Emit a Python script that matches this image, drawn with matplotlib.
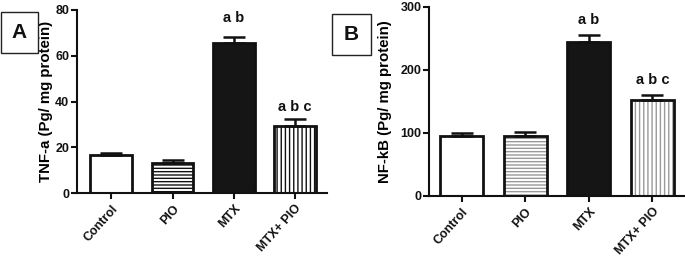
import matplotlib
matplotlib.use("Agg")
import matplotlib.pyplot as plt
from matplotlib.patches import Rectangle
import numpy as np

plt.rcParams['font.family'] = ['Liberation Sans', 'DejaVu Sans']
plt.rcParams['font.weight'] = 'bold'
plt.rcParams['hatch.linewidth'] = 1.0

categories = ["Control", "PIO", "MTX", "MTX+ PIO"]
tnf_values = [16.5, 13.3, 65.7, 29.3]
tnf_errors = [1.1, 1.0, 2.4, 2.9]
nfkb_values = [95.5, 95.5, 244, 152]
nfkb_errors = [4.8, 6.4, 10.5, 8.5]
tnf_labels = ["", "", "a b", "a b c"]
nfkb_labels = ["", "", "a b", "a b c"]

W, H = 685, 263
fig = plt.figure(figsize=(W / 100, H / 100), dpi=100)

def px_axes(l, r, t, b):
    return fig.add_axes([l / W, 1 - b / H, (r - l) / W, (b - t) / H])

def draw_panel(ax, values, errors, labels, hatch_color, ylim, yticks, ylabel,
               xlim, label_y):
    x = np.arange(len(values))
    w = 0.68
    styles = [
        dict(face='white', hatch=None),
        dict(face='white', hatch='-----'),
        dict(face='#151515', hatch=None),
        dict(face='white', hatch='||||'),
    ]
    for i, (v, s) in enumerate(zip(values, styles)):
        ax.bar(x[i], v, width=w, color=s['face'], edgecolor=hatch_color if s['hatch'] else 'none',
               hatch=s['hatch'], linewidth=0, zorder=2)
        ax.bar(x[i], v, width=w, color='none', edgecolor='#111111', linewidth=2.0, zorder=3)
    ax.errorbar(x, values, yerr=[np.zeros(len(values)), errors], fmt='none',
                ecolor='#111111', elinewidth=1.8, capsize=8, capthick=1.8, zorder=4)
    for i, t in enumerate(labels):
        if t:
            ax.text(x[i], label_y[i], t, ha='center', va='center', fontsize=10.5,
                    fontweight='bold', color='#111111')
    ax.set_xlim(*xlim)
    ax.set_ylim(*ylim)
    ax.set_yticks(yticks)
    ax.set_xticks(x)
    ax.set_xticklabels(categories, rotation=48, ha='right', rotation_mode='anchor',
                       fontsize=9, fontweight='bold')
    for lab in ax.get_yticklabels():
        lab.set_fontsize(9)
        lab.set_fontweight('bold')
    ax.set_ylabel(ylabel, fontsize=10.8, fontweight='bold')
    ax.spines['top'].set_visible(False)
    ax.spines['right'].set_visible(False)
    for sp in ('left', 'bottom'):
        ax.spines[sp].set_linewidth(1.5)
        ax.spines[sp].set_color('#111111')
    ax.tick_params(axis='both', direction='out', length=4, width=1.5, colors='#111111', pad=1.5)
    ax.tick_params(axis='x', pad=3)

axA = px_axes(77, 327, 10, 193)
draw_panel(axA, tnf_values, tnf_errors, tnf_labels, '#111111', (0, 80), [0, 20, 40, 60, 80],
           "TNF-a (Pg/ mg protein)", (-0.56, 3.52), [0, 0, 76.5, 37.6])
axA.yaxis.set_label_coords(-24 / 250, 0.5)

axB = px_axes(429, 686, 6.7, 196)
draw_panel(axB, nfkb_values, nfkb_errors, nfkb_labels, '#999999', (0, 300), [0, 100, 200, 300],
           "NF-kB (Pg/ mg protein)", (-0.515, 3.53), [0, 0, 279, 184])
axB.yaxis.set_label_coords(-37 / 257, 0.5)

def letter_box(l, r, t, b, letter):
    fig.patches.append(Rectangle((l / W, 1 - b / H), (r - l) / W, (b - t) / H,
                                 transform=fig.transFigure, facecolor='white',
                                 edgecolor='#222222', linewidth=1.0))
    fig.text((l + r) / 2 / W, 1 - (t + b) / 2 / H, letter, ha='center', va='center',
             fontsize=15, fontweight='bold', color='#111111')

letter_box(0.5, 38, 12, 53, "A")
letter_box(332, 371, 14, 55, "B")

fig.savefig("out.png", dpi=100)
